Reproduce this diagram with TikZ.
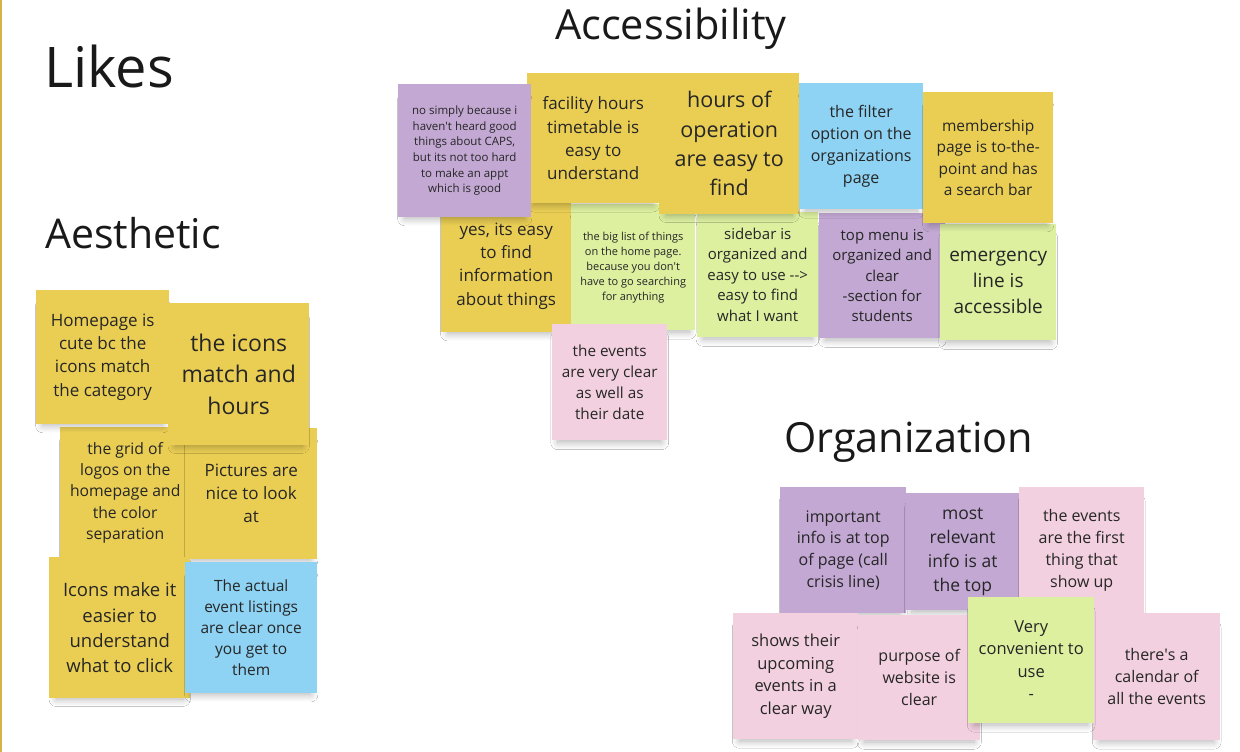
\documentclass[tikz,border=0pt]{standalone}
\usepackage{fontspec}
\setmainfont{Open Sans}
\usetikzlibrary{shadows.blur}

\definecolor{noteyellow}{HTML}{EACE54}
\definecolor{notepurple}{HTML}{C2A8D3}
\definecolor{noteblue}{HTML}{8ED3F4}
\definecolor{notegreen}{HTML}{DCF0A0}
\definecolor{notepink}{HTML}{F3D0DF}
\definecolor{edgegold}{HTML}{D4B44A}
\newcommand\nsize[1]{\fontsize{#1}{\fpeval{1.36*#1}}\selectfont}
\newcommand\ap{\textquotesingle}

\begin{document}
\begin{tikzpicture}[x=1pt,y=-1pt,
  sticky/.style={inner sep=2pt, align=center, anchor=north west, text=black!85,
    blur shadow={shadow xshift=0pt, shadow yshift=-9pt, shadow blur radius=8pt,
      shadow blur steps=10, shadow opacity=30, shadow scale=0.9}},
  wh/.style 2 args={minimum width=#1pt, minimum height=#2pt},
  heading/.style={anchor=base west, inner sep=0pt, text=black!90}]
\useasboundingbox (0,0) rectangle (1240,752);
\fill[white] (0,0) rectangle (1240,752);
\fill[edgegold] (0,0) rectangle (2,752);

% headings
\node[heading, font=\fontsize{56}{60}\selectfont] (likes) at (44,88) {Likes};
\node[heading, font=\fontsize{41}{44}\selectfont] (aesthetic) at (45,248) {Aesthetic};
\node[heading, font=\fontsize{41.5}{44}\selectfont] (access) at (555,40) {Accessibility};
\node[heading, font=\fontsize{41.5}{44}\selectfont] (organ) at (784,452) {Organization};

% accessibility, lower row
\node[sticky, wh={130}{132}, fill=noteyellow, font=\nsize{17}] (acc6) at (441,200)
  {yes, its easy\\to find\\information\\about things};
\node[sticky, wh={124}{126}, fill=notegreen, font=\nsize{11}] (acc7) at (571,204)
  {the big list of things\\on the home page.\\because you don\ap t\\have to go searching\\for anything};
\node[sticky, wh={121}{125}, fill=notegreen, font=\nsize{15}] (acc8) at (697,212)
  {sidebar is\\organized and\\easy to use {-}{-}>\\easy to find\\what I want};
\node[sticky, wh={126}{125}, fill=notepurple, font=\nsize{15}] (acc9) at (819,213)
  {top menu is\\organized and\\clear\\-section for\\students};
\node[sticky, wh={116}{116}, fill=notegreen, font=\nsize{19}] (acc10) at (940,224)
  {emergency\\line is\\accessible};
% accessibility, upper row
\node[sticky, wh={132}{130}, fill=noteyellow, font=\nsize{17}] (acc2) at (527,73)
  {facility hours\\timetable is\\easy to\\understand};
\node[sticky, wh={133}{133}, fill=notepurple, font=\nsize{11.5}] (acc1) at (398,84)
  {no simply because i\\haven\ap t heard good\\things about CAPS,\\but its not too hard\\to make an appt\\which is good};
\node[sticky, wh={140}{141}, fill=noteyellow, font=\nsize{21.5}] (acc3) at (659,73)
  {hours of\\operation\\are easy to\\find};
\node[sticky, wh={124}{126}, fill=noteblue, font=\nsize{16}] (acc4) at (799,83)
  {the filter\\option on the\\organizations\\page};
\node[sticky, wh={130}{131}, fill=noteyellow, font=\nsize{15.5}] (acc5) at (923,92)
  {membership\\page is to-the-\\point and has\\a search bar};
\node[sticky, wh={115}{116}, fill=notepink, font=\nsize{15.3}] (acc11) at (552,324)
  {the events\\are very clear\\as well as\\their date};

% aesthetic
\node[sticky, wh={130}{131}, fill=noteyellow, font=\nsize{15.7}] (aes3) at (60,427)
  {the grid of\\logos on the\\homepage and\\the color\\separation};
\node[sticky, wh={132}{131}, fill=noteyellow, font=\nsize{17}] (aes4) at (185,428)
  {Pictures are\\nice to look\\at};
\node[sticky, wh={133}{134}, fill=noteyellow, font=\nsize{17}] (aes1) at (36,290)
  {Homepage is\\cute bc the\\icons match\\the category};
\node[sticky, wh={141}{142}, fill=noteyellow, font=\nsize{23}] (aes2) at (168,303)
  {the icons\\match and\\hours};
\node[sticky, wh={141}{141}, fill=noteyellow, font=\nsize{18.5}] (aes5) at (49,557)
  {Icons make it\\easier to\\understand\\what to click};
\node[sticky, wh={132}{131}, fill=noteblue, font=\nsize{15.5}] (aes6) at (185,562)
  {The actual\\event listings\\are clear once\\you get to\\them};

% organization
\node[sticky, wh={126}{126}, fill=notepurple, font=\nsize{16}] (org1) at (780,487)
  {important\\info is at top\\of page (call\\crisis line)};
\node[sticky, wh={113}{117}, fill=notepurple, font=\nsize{17.5}] (org2) at (906,493)
  {most\\relevant\\info is at\\the top};
\node[sticky, wh={125}{126}, fill=notepink, font=\nsize{16}] (org3) at (1019,487)
  {the events\\are the first\\thing that\\show up};
\node[sticky, wh={125}{126}, fill=notepink, font=\nsize{16.5}] (org4) at (733,613)
  {shows their\\upcoming\\events in a\\clear way};
\node[sticky, wh={122}{125}, fill=notepink, font=\nsize{16}] (org5) at (858,615)
  {purpose of\\website is\\clear};
\node[sticky, wh={127}{127}, fill=notepink, font=\nsize{16}] (org7) at (1093,613)
  {there\ap s a\\calendar of\\all the events};
\node[sticky, wh={126}{126}, fill=notegreen, font=\nsize{16.5}] (org6) at (968,597)
  {Very\\convenient to\\use\\-};
\end{tikzpicture}
\end{document}
